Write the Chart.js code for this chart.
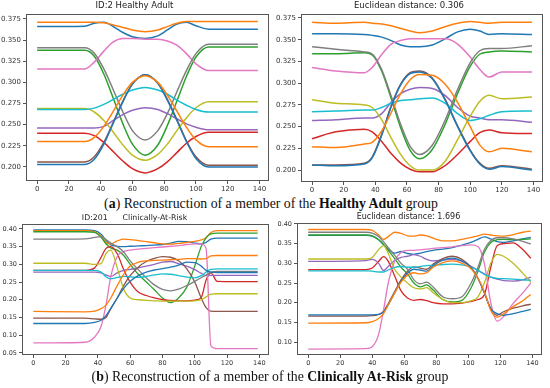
<!DOCTYPE html>
<html>
<head>
<meta charset="utf-8">
<script src="https://cdn.jsdelivr.net/npm/chart.js@4.4.1/dist/chart.umd.min.js"></script>
<style>
  body { margin: 0; width: 550px; height: 388px; background: #fff; position: relative; overflow: hidden; }
  canvas { position: absolute; }
  .cap { position: absolute; left: 0; text-align: center; font-family: "Liberation Serif", "DejaVu Serif", serif; font-size: 13.8px; color: #111; white-space: nowrap; line-height: 16px; }
</style>
</head>
<body>
<canvas id="healthyOrig" width="275" height="196" style="left:0;top:0"></canvas>
<canvas id="healthyRec" width="275" height="196" style="left:275px;top:0"></canvas>
<div class="cap" style="top:196px;width:542px">(<b>a</b>) Reconstruction of a member of the <b>Healthy Adult</b> group</div>
<canvas id="riskOrig" width="275" height="158" style="left:0;top:212px"></canvas>
<canvas id="riskRec" width="275" height="158" style="left:275px;top:212px"></canvas>
<div class="cap" style="top:369px;width:540px">(<b>b</b>) Reconstruction of a member of the <b>Clinically At-Risk</b> group</div>
<script>
// matplotlib tab10 cycle (12 lines -> blue and orange used twice)
const lineColors = ["#1f77b4", "#ff7f0e", "#2ca02c", "#d62728", "#9467bd", "#8c564b", "#e377c2", "#7f7f7f", "#bcbd22", "#17becf", "#1f77b4", "#ff7f0e"]
const xTicks = [0, 20, 40, 60, 80, 100, 120, 140]

// ---- (a) Healthy Adult, original (ID:2) ----
const haX = [0, 30, 36, 42, 48, 54, 60, 68, 76, 82, 88, 94, 100, 108, 139]
const haBlue = [0.366, 0.3665, 0.370, 0.371, 0.366, 0.359, 0.354, 0.352, 0.355, 0.362, 0.369, 0.371, 0.367, 0.363, 0.363]
const haOrange = [0.371, 0.371, 0.371, 0.3705, 0.368, 0.365, 0.362, 0.360, 0.362, 0.366, 0.370, 0.372, 0.372, 0.372, 0.372]
const haGreen = [0.338, 0.338, 0.331, 0.310, 0.281, 0.251, 0.227, 0.214, 0.226, 0.249, 0.278, 0.307, 0.330, 0.342, 0.342]
const haRed = [0.240, 0.240, 0.237, 0.229, 0.218, 0.207, 0.198, 0.193, 0.198, 0.206, 0.217, 0.228, 0.236, 0.241, 0.241]
const haPurple = [0.246, 0.246, 0.246, 0.248, 0.255, 0.262, 0.267, 0.270, 0.268, 0.263, 0.257, 0.251, 0.247, 0.244, 0.244]
const haBrown = [0.206, 0.206, 0.212, 0.229, 0.253, 0.278, 0.298, 0.309, 0.299, 0.280, 0.256, 0.231, 0.212, 0.202, 0.202]
const haPink = [0.316, 0.316, 0.324, 0.337, 0.348, 0.352, 0.352, 0.351, 0.351, 0.349, 0.344, 0.334, 0.322, 0.314, 0.314]
const haGray = [0.341, 0.341, 0.3345, 0.316, 0.291, 0.265, 0.243, 0.232, 0.243, 0.263, 0.289, 0.314, 0.334, 0.345, 0.345]
const haOlive = [0.269, 0.269, 0.265, 0.255, 0.241, 0.226, 0.214, 0.208, 0.215, 0.227, 0.243, 0.258, 0.270, 0.277, 0.277]
const haCyan = [0.268, 0.268, 0.2696, 0.274, 0.280, 0.286, 0.291, 0.294, 0.291, 0.286, 0.279, 0.273, 0.268, 0.265, 0.265]
const haBlue2 = [0.203, 0.203, 0.209, 0.227, 0.252, 0.277, 0.298, 0.309, 0.299, 0.279, 0.255, 0.230, 0.210, 0.200, 0.200]
const haOrange2 = [0.230, 0.230, 0.235, 0.248, 0.266, 0.285, 0.300, 0.308, 0.300, 0.285, 0.266, 0.247, 0.232, 0.224, 0.224]

// ---- (a) Healthy Adult, reconstruction ----
const hrX = [0, 15, 33, 38, 44, 50, 56, 62, 68, 76, 84, 92, 100, 106, 112, 120, 139]
const hrBlue = [0.357, 0.357, 0.356, 0.355, 0.353, 0.349, 0.344, 0.342, 0.342, 0.344, 0.351, 0.359, 0.362, 0.360, 0.356, 0.357, 0.356]
const hrOrange = [0.370, 0.369, 0.370, 0.369, 0.368, 0.366, 0.363, 0.360, 0.358, 0.360, 0.365, 0.369, 0.371, 0.370, 0.369, 0.370, 0.370]
const hrGreen = [0.334, 0.334, 0.335, 0.3326, 0.314, 0.2825, 0.2487, 0.2226, 0.213, 0.2237, 0.2521, 0.2883, 0.3195, 0.3333, 0.336, 0.337, 0.336]
const hrRed = [0.236, 0.244, 0.247, 0.244, 0.233, 0.219, 0.208, 0.201, 0.198, 0.198, 0.205, 0.218, 0.233, 0.243, 0.246, 0.243, 0.242]
const hrPurple = [0.257, 0.258, 0.260, 0.260, 0.265, 0.278, 0.288, 0.293, 0.295, 0.294, 0.286, 0.272, 0.262, 0.260, 0.258, 0.258, 0.255]
const hrBrown = [0.206, 0.206, 0.208, 0.215, 0.241, 0.274, 0.299, 0.312, 0.314, 0.306, 0.282, 0.251, 0.223, 0.208, 0.202, 0.205, 0.201]
const hrPink = [0.318, 0.314, 0.312, 0.318, 0.333, 0.345, 0.349, 0.351, 0.351, 0.351, 0.351, 0.345, 0.330, 0.316, 0.307, 0.313, 0.313]
const hrGray = [0.342, 0.339, 0.336, 0.3336, 0.3157, 0.2853, 0.2526, 0.2273, 0.218, 0.2286, 0.2568, 0.2927, 0.3237, 0.3373, 0.340, 0.340, 0.343]
const hrOlive = [0.281, 0.277, 0.275, 0.272, 0.258, 0.237, 0.218, 0.205, 0.200, 0.200, 0.210, 0.235, 0.262, 0.279, 0.286, 0.282, 0.284]
const hrCyan = [0.267, 0.268, 0.269, 0.269, 0.272, 0.277, 0.280, 0.281, 0.282, 0.283, 0.277, 0.265, 0.257, 0.259, 0.263, 0.267, 0.268]
const hrBlue2 = [0.206, 0.205, 0.207, 0.214, 0.240, 0.273, 0.298, 0.311, 0.313, 0.305, 0.281, 0.250, 0.222, 0.207, 0.201, 0.204, 0.200]
const hrOrange2 = [0.227, 0.226, 0.230, 0.232, 0.245, 0.266, 0.288, 0.304, 0.310, 0.309, 0.299, 0.278, 0.250, 0.229, 0.221, 0.225, 0.221]

// ---- (b) Clinically At-Risk, original (ID:201) ----
const caX = [0, 32, 38, 42, 45, 48, 52, 56, 60, 65, 70, 75, 80, 85, 90, 95, 100, 104, 107, 110, 114, 139]
const caBlue = [0.397, 0.397, 0.395, 0.385, 0.368, 0.355, 0.351, 0.350, 0.351, 0.352, 0.353, 0.354, 0.356, 0.360, 0.365, 0.364, 0.360, 0.358, 0.362, 0.371, 0.374, 0.374]
const caOrange = [0.395, 0.395, 0.392, 0.380, 0.362, 0.358, 0.366, 0.371, 0.370, 0.367, 0.364, 0.361, 0.358, 0.357, 0.359, 0.362, 0.365, 0.369, 0.375, 0.390, 0.395, 0.395]
const caGreen = [0.392, 0.392, 0.390, 0.376, 0.358, 0.346, 0.340, 0.325, 0.300, 0.272, 0.250, 0.228, 0.205, 0.192, 0.205, 0.235, 0.295, 0.350, 0.375, 0.386, 0.388, 0.388]
const caRed = [0.283, 0.283, 0.290, 0.320, 0.345, 0.350, 0.330, 0.285, 0.250, 0.222, 0.212, 0.205, 0.200, 0.198, 0.197, 0.197, 0.199, 0.206, 0.255, 0.276, 0.252, 0.251]
const caPurple = [0.278, 0.278, 0.278, 0.276, 0.270, 0.266, 0.276, 0.283, 0.286, 0.290, 0.295, 0.300, 0.306, 0.308, 0.302, 0.295, 0.285, 0.275, 0.268, 0.269, 0.269, 0.269]
const caBrown = [0.148, 0.148, 0.146, 0.145, 0.150, 0.175, 0.205, 0.240, 0.268, 0.292, 0.308, 0.317, 0.322, 0.320, 0.310, 0.288, 0.250, 0.205, 0.178, 0.168, 0.167, 0.167]
const caPink = [0.078, 0.080, 0.095, 0.125, 0.185, 0.265, 0.322, 0.336, 0.340, 0.343, 0.345, 0.347, 0.349, 0.351, 0.353, 0.356, 0.358, 0.358, 0.345, 0.070, 0.062, 0.062]
const caGray = [0.371, 0.372, 0.376, 0.378, 0.370, 0.360, 0.350, 0.335, 0.310, 0.285, 0.262, 0.242, 0.229, 0.225, 0.230, 0.240, 0.252, 0.262, 0.270, 0.278, 0.280, 0.280]
const caOlive = [0.303, 0.303, 0.300, 0.302, 0.330, 0.340, 0.290, 0.230, 0.205, 0.200, 0.198, 0.197, 0.196, 0.196, 0.196, 0.196, 0.197, 0.200, 0.208, 0.216, 0.217, 0.217]
const caCyan = [0.283, 0.283, 0.283, 0.278, 0.265, 0.259, 0.263, 0.266, 0.265, 0.263, 0.266, 0.270, 0.273, 0.272, 0.268, 0.264, 0.262, 0.268, 0.278, 0.286, 0.287, 0.287]
const caBlue2 = [0.133, 0.133, 0.136, 0.142, 0.155, 0.175, 0.205, 0.232, 0.252, 0.268, 0.278, 0.284, 0.288, 0.292, 0.298, 0.306, 0.305, 0.295, 0.283, 0.278, 0.277, 0.277]
const caOrange2 = [0.167, 0.166, 0.168, 0.175, 0.185, 0.205, 0.240, 0.272, 0.295, 0.306, 0.310, 0.311, 0.312, 0.313, 0.314, 0.316, 0.316, 0.315, 0.316, 0.324, 0.325, 0.325]

// ---- (b) Clinically At-Risk, reconstruction ----
const crX = [0, 36, 40, 44, 47, 50, 54, 58, 62, 66, 70, 74, 78, 84, 90, 96, 102, 106, 110, 114, 118, 122, 128, 134, 139]
const crBlue = [0.371, 0.371, 0.369, 0.360, 0.348, 0.336, 0.326, 0.330, 0.325, 0.323, 0.326, 0.330, 0.333, 0.336, 0.340, 0.346, 0.354, 0.361, 0.367, 0.362, 0.355, 0.353, 0.357, 0.362, 0.366]
const crOrange = [0.386, 0.386, 0.384, 0.372, 0.361, 0.368, 0.379, 0.376, 0.370, 0.369, 0.372, 0.370, 0.364, 0.357, 0.357, 0.361, 0.366, 0.370, 0.374, 0.372, 0.370, 0.369, 0.373, 0.379, 0.382]
const crGreen = [0.372, 0.372, 0.370, 0.360, 0.348, 0.333, 0.312, 0.290, 0.273, 0.250, 0.240, 0.245, 0.232, 0.208, 0.202, 0.206, 0.240, 0.280, 0.328, 0.353, 0.360, 0.361, 0.360, 0.361, 0.362]
const crRed = [0.284, 0.284, 0.288, 0.305, 0.317, 0.305, 0.268, 0.230, 0.212, 0.206, 0.208, 0.205, 0.200, 0.197, 0.197, 0.199, 0.203, 0.208, 0.220, 0.290, 0.345, 0.350, 0.352, 0.335, 0.313]
const crPurple = [0.305, 0.307, 0.310, 0.300, 0.282, 0.292, 0.308, 0.315, 0.318, 0.322, 0.318, 0.310, 0.306, 0.308, 0.310, 0.305, 0.292, 0.282, 0.273, 0.265, 0.260, 0.256, 0.255, 0.258, 0.265]
const crBrown = [0.166, 0.166, 0.167, 0.170, 0.178, 0.198, 0.228, 0.258, 0.280, 0.291, 0.288, 0.285, 0.298, 0.312, 0.318, 0.310, 0.288, 0.262, 0.225, 0.185, 0.168, 0.177, 0.186, 0.192, 0.196]
const crPink = [0.082, 0.083, 0.088, 0.120, 0.180, 0.250, 0.305, 0.328, 0.333, 0.333, 0.334, 0.336, 0.338, 0.340, 0.342, 0.345, 0.347, 0.343, 0.300, 0.200, 0.153, 0.165, 0.198, 0.225, 0.250]
const crGray = [0.379, 0.379, 0.377, 0.368, 0.355, 0.340, 0.320, 0.300, 0.285, 0.258, 0.248, 0.252, 0.240, 0.215, 0.210, 0.215, 0.252, 0.290, 0.335, 0.358, 0.365, 0.365, 0.362, 0.356, 0.349]
const crOlive = [0.311, 0.311, 0.315, 0.335, 0.345, 0.325, 0.285, 0.265, 0.250, 0.238, 0.235, 0.238, 0.225, 0.208, 0.200, 0.200, 0.205, 0.215, 0.250, 0.300, 0.323, 0.318, 0.300, 0.275, 0.252]
const crCyan = [0.281, 0.281, 0.280, 0.278, 0.278, 0.283, 0.290, 0.292, 0.290, 0.290, 0.292, 0.294, 0.295, 0.297, 0.298, 0.296, 0.290, 0.282, 0.272, 0.265, 0.262, 0.261, 0.260, 0.258, 0.257]
const crBlue2 = [0.169, 0.169, 0.169, 0.170, 0.176, 0.195, 0.225, 0.255, 0.275, 0.285, 0.283, 0.280, 0.294, 0.308, 0.313, 0.306, 0.288, 0.262, 0.225, 0.185, 0.172, 0.168, 0.172, 0.178, 0.183]
const crOrange2 = [0.148, 0.149, 0.152, 0.160, 0.172, 0.195, 0.225, 0.252, 0.270, 0.276, 0.273, 0.276, 0.290, 0.302, 0.306, 0.300, 0.285, 0.262, 0.228, 0.180, 0.163, 0.172, 0.190, 0.205, 0.221]

// y tick labels
const healthyTicks = ["0.200", "0.225", "0.250", "0.275", "0.300", "0.325", "0.350", "0.375"]
const riskOrigTicks = ["0.05", "0.10", "0.15", "0.20", "0.25", "0.30", "0.35", "0.40"]
const riskRecTicks = ["0.10", "0.15", "0.20", "0.25", "0.30", "0.35", "0.40"]

// draws the 4-sided axes box like matplotlib spines
const framePlugin = {
  id: "frame",
  afterDraw(chart) {
    const { ctx, chartArea: a } = chart
    ctx.save()
    ctx.strokeStyle = "#555"
    ctx.lineWidth = 1
    ctx.strokeRect(Math.round(a.left) + 0.5, Math.round(a.top) + 0.5, Math.round(a.width) - 1, Math.round(a.height) - 1)
    ctx.restore()
  },
}

function makePanel(id, opts) {
  const datasets = opts.series.map((ys, i) => ({
    data: opts.xs.map((x, j) => ({ x: x, y: ys[j] })),
    borderColor: lineColors[i],
    borderWidth: opts.lineWidth,
    pointRadius: 0,
    cubicInterpolationMode: "monotone",
    fill: false,
    order: opts.series.length - i, // later lines on top, as in matplotlib
  }))

  const tickFont = { family: "DejaVu Sans", size: opts.tickSize }
  new Chart(document.getElementById(id), {
    type: "line",
    data: { datasets: datasets },
    plugins: [framePlugin],
    options: {
      responsive: false,
      animation: false,
      layout: { padding: { left: 0, right: opts.padRight, top: 0, bottom: 0 } },
      plugins: {
        legend: { display: false },
        tooltip: { enabled: false },
        title: {
          display: true,
          text: opts.title,
          color: "#222",
          font: { family: "DejaVu Sans", size: opts.titleSize, weight: "normal" },
          padding: { top: opts.titleTop, bottom: opts.titleBottom },
        },
      },
      scales: {
        x: {
          type: "linear",
          min: -7,
          max: 146,
          afterBuildTicks: (axis) => { axis.ticks = xTicks.map((v) => ({ value: v })) },
          afterFit: (axis) => { axis.height = opts.xAxisHeight },
          grid: { drawOnChartArea: false, drawTicks: true, tickLength: 3, color: "#555" },
          border: { display: false },
          ticks: { color: "#333", font: tickFont, padding: 1, maxRotation: 0, autoSkip: false },
        },
        y: {
          type: "linear",
          min: opts.yMin,
          max: opts.yMax,
          afterBuildTicks: (axis) => { axis.ticks = opts.yLabels.map((s) => ({ value: parseFloat(s) })) },
          afterFit: (axis) => { axis.width = opts.yAxisWidth },
          grid: { drawOnChartArea: false, drawTicks: true, tickLength: 3, color: "#555" },
          border: { display: false },
          ticks: {
            color: "#333",
            font: tickFont,
            padding: 2,
            autoSkip: false,
            callback: (value, index) => opts.yLabels[index],
          },
        },
      },
    },
  })
}

makePanel("healthyOrig", {
  xs: haX,
  series: [haBlue, haOrange, haGreen, haRed, haPurple, haBrown, haPink, haGray, haOlive, haCyan, haBlue2, haOrange2],
  title: "ID:2 Healthy Adult",
  yLabels: healthyTicks, yMin: 0.1834, yMax: 0.3809,
  yAxisWidth: 26, padRight: 6, xAxisHeight: 15,
  titleSize: 8.5, titleTop: 1, titleBottom: 2.8, tickSize: 7, lineWidth: 1.5,
})

makePanel("healthyRec", {
  xs: hrX,
  series: [hrBlue, hrOrange, hrGreen, hrRed, hrPurple, hrBrown, hrPink, hrGray, hrOlive, hrCyan, hrBlue2, hrOrange2],
  title: "Euclidean distance: 0.306",
  yLabels: healthyTicks, yMin: 0.1863, yMax: 0.3796,
  yAxisWidth: 26, padRight: 7, xAxisHeight: 14,
  titleSize: 8.5, titleTop: 1, titleBottom: 2.8, tickSize: 7, lineWidth: 1.5,
})

makePanel("riskOrig", {
  xs: caX,
  series: [caBlue, caOrange, caGreen, caRed, caPurple, caBrown, caPink, caGray, caOlive, caCyan, caBlue2, caOrange2],
  title: "ID:201      Clinically-At-Risk",
  yLabels: riskOrigTicks, yMin: 0.044, yMax: 0.414,
  yAxisWidth: 22, padRight: 6, xAxisHeight: 15,
  titleSize: 7.8, titleTop: 1, titleBottom: 1.6, tickSize: 6.5, lineWidth: 1.3,
})

makePanel("riskRec", {
  xs: crX,
  series: [crBlue, crOrange, crGreen, crRed, crPurple, crBrown, crPink, crGray, crOlive, crCyan, crBlue2, crOrange2],
  title: "Euclidean distance: 1.696",
  yLabels: riskRecTicks, yMin: 0.067, yMax: 0.4025,
  yAxisWidth: 22, padRight: 8, xAxisHeight: 15,
  titleSize: 8, titleTop: 0, titleBottom: 1.4, tickSize: 6.5, lineWidth: 1.3,
})
</script>
</body>
</html>
